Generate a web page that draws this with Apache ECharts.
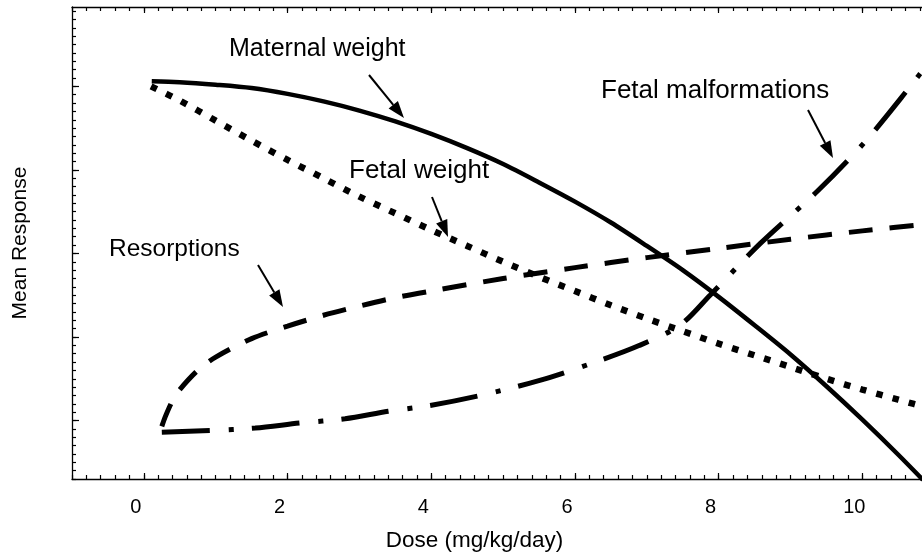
<!DOCTYPE html>
<html>
<head>
<meta charset="utf-8">
<script src="https://cdn.jsdelivr.net/npm/echarts@6/dist/echarts.min.js"></script>
<style>
html,body{margin:0;padding:0;background:#fff;}
#chart{width:922px;height:556px;}
</style>
</head>
<body>
<div id="chart"></div>
<script>
// ---- data ----
const maternalDose = [0.11,0.5,1,1.5,2,2.5,3,3.5,4,4.5,5,5.5,6,6.5,7,7.5,8,8.5,9,9.5,10,10.5,11];
const maternalResp = [5.06,5.05,5.02,4.98,4.91,4.82,4.71,4.58,4.43,4.26,4.07,3.85,3.62,3.37,3.09,2.80,2.48,2.14,1.79,1.41,1.01,0.59,0.15];

const fetalWeightDose = [0.1,0.5,1,1.5,2,2.5,3,3.5,4,4.5,5,5.5,6,6.5,7,7.5,8,8.5,9,9.5,10,10.5,11];
const fetalWeightResp = [5.0,4.83,4.59,4.35,4.12,3.90,3.68,3.48,3.28,3.09,2.90,2.72,2.55,2.38,2.22,2.07,1.92,1.78,1.64,1.50,1.37,1.25,1.13];

const resorpDose = [0.25,0.3,0.4,0.5,0.75,1,1.5,2,2.5,3,3.5,4,5,6,7,8,9,10,11];
const resorpResp = [0.93,1.05,1.24,1.37,1.60,1.76,1.98,2.13,2.26,2.37,2.47,2.55,2.70,2.83,2.95,3.06,3.17,3.27,3.36];

const malfDose = [0.25,0.92,1.55,2.17,2.80,3.40,3.98,4.68,5.51,6.35,6.90,7.46,7.88,8.58,9.38,10.04,10.64,11.01];
const malfResp = [0.86,0.88,0.91,0.97,1.02,1.11,1.18,1.30,1.48,1.72,1.90,2.14,2.50,3.12,3.75,4.34,4.97,5.38];

const xTickLabels = [0,2,4,6,8,10];
const yMajorTicks = [1,2,3,4,5];
const xRange = [-1, 10.83];
const yRange = [0.3, 5.95];

function steps(a, b, s){ const out=[]; for(let v=a; v<=b+1e-9; v+=s) out.push(Math.round(v*100)/100); return out; }
const xMinorTicks = steps(-1, 10.8, 0.2);
const yMinorTicks = steps(0.3, 5.9, 0.1);

function pairs(xs, ys){ return xs.map((x,i)=>[x, ys[i]]); }

const FONT = 'Liberation Sans, Arial, Helvetica, sans-serif';
const BLACK = '#000';

function xAxisDef(pos, ticks, len, withLine, withLabels){
  return {
    type:'value', min:xRange[0], max:xRange[1], position:pos,
    axisLine:{show:withLine, onZero:false, lineStyle:{color:BLACK, width:1.3}},
    axisTick:{show:true, inside:true, length:len, customValues:ticks, lineStyle:{color:BLACK, width:1.2}},
    axisLabel: withLabels ? {show:true, customValues:xTickLabels, fontSize:20, color:BLACK, fontFamily:FONT, margin:18, padding:[0,16,0,0]} : {show:false},
    splitLine:{show:false}
  };
}
function yAxisDef(ticks, len, withLine){
  return {
    type:'value', min:yRange[0], max:yRange[1], position:'left',
    axisLine:{show:withLine, onZero:false, lineStyle:{color:BLACK, width:1.3}},
    axisTick:{show:true, inside:true, length:len, customValues:ticks, lineStyle:{color:BLACK, width:1.2}},
    axisLabel:{show:false},
    splitLine:{show:false}
  };
}

function arrow(x1,y1,x2,y2){
  const ang = Math.atan2(y2-y1, x2-x1);
  const L = 17, W = 6;
  const bx = x2 - L*Math.cos(ang), by = y2 - L*Math.sin(ang);
  const px = -Math.sin(ang)*W, py = Math.cos(ang)*W;
  return [
    {type:'line', shape:{x1:x1,y1:y1,x2:bx,y2:by}, style:{stroke:BLACK, lineWidth:2}},
    {type:'polygon', shape:{points:[[x2,y2],[bx+px,by+py],[bx-px,by-py]]}, style:{fill:BLACK}}
  ];
}
function label(text, x, y, size){
  return {type:'text', x:x, y:y, style:{text:text, font: size+'px '+FONT, fill:BLACK, align:'left', verticalAlign:'middle'}};
}

const chart = echarts.init(document.getElementById('chart'), null, {renderer:'canvas'});
const option = {
  animation:false,
  backgroundColor:'#fff',
  grid:{left:72, top:7, right:0, bottom:77, containLabel:false},
  xAxis:[
    xAxisDef('bottom', xTickLabels, 6, true, true),
    xAxisDef('bottom', xMinorTicks, 4, false, false),
    xAxisDef('top', xTickLabels, 6, true, false),
    xAxisDef('top', xMinorTicks, 4, false, false)
  ],
  yAxis:[
    yAxisDef(yMajorTicks, 7, true),
    yAxisDef(yMinorTicks, 4, false)
  ],
  series:[
    {name:'Maternal weight', type:'line', xAxisIndex:0, yAxisIndex:0, data:pairs(maternalDose, maternalResp), symbol:'none', smooth:0.3,
     lineStyle:{color:BLACK, width:4.5, type:'solid', cap:'butt'}},
    {name:'Fetal weight', type:'line', xAxisIndex:0, yAxisIndex:0, data:pairs(fetalWeightDose, fetalWeightResp), symbol:'none', smooth:0.3,
     lineStyle:{color:BLACK, width:6.5, type:[6.5,10.3], cap:'butt'}},
    {name:'Resorptions', type:'line', xAxisIndex:0, yAxisIndex:0, data:pairs(resorpDose, resorpResp), symbol:'none', smooth:0.3,
     lineStyle:{color:BLACK, width:5, type:[24,17], cap:'butt'}},
    {name:'Fetal malformations', type:'line', xAxisIndex:0, yAxisIndex:0, data:pairs(malfDose, malfResp), symbol:'none', smooth:0.3,
     lineStyle:{color:BLACK, width:5, type:[48,19,5,18], cap:'butt'}}
  ],
  graphic:[].concat(
    [label('Maternal weight', 229, 49.5, 25),
     label('Fetal malformations', 601, 91, 26),
     label('Resorptions', 109, 249, 24.5),
     label('Fetal weight', 349, 170.5, 26),
     {type:'text', x:474.5, y:541, style:{text:'Dose (mg/kg/day)', font:'22.5px '+FONT, fill:BLACK, align:'center', verticalAlign:'middle'}},
     {type:'text', x:20, y:243, rotation:Math.PI/2, style:{text:'Mean Response', font:'21px '+FONT, fill:BLACK, align:'center', verticalAlign:'middle'}}
    ],
    arrow(369,75,404,118),
    arrow(432,197,448,237),
    arrow(258,265,283,307),
    arrow(808,110,833,158)
  )
};
chart.setOption(option);
</script>
</body>
</html>
